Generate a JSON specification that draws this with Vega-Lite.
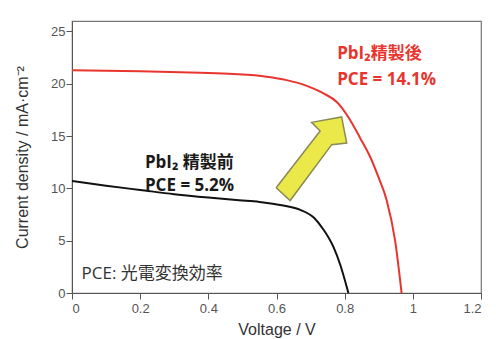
{
  "$schema": "https://vega.github.io/schema/vega-lite/v6.json",
  "width": 409,
  "height": 272,
  "autosize": "none",
  "padding": {"left": 72, "top": 21, "right": 15, "bottom": 46},
  "background": "white",
  "config": {
    "view": {"stroke": "#777", "strokeWidth": 1.2},
    "axis": {"grid": false, "domainColor": "#555", "tickColor": "#555", "labelColor": "#555", "labelFont": "Liberation Sans", "labelFontSize": 13, "titleFont": "Liberation Sans", "titleFontSize": 16, "titleFontWeight": "normal", "titleColor": "#333", "tickSize": 6}
  },
  "datasets": {
    "curves": [
      {"series": "before", "V": 0, "J": 10.7},
      {"series": "before", "V": 0.1, "J": 10.25},
      {"series": "before", "V": 0.2, "J": 9.85},
      {"series": "before", "V": 0.3, "J": 9.45},
      {"series": "before", "V": 0.4, "J": 9.12},
      {"series": "before", "V": 0.49, "J": 8.86},
      {"series": "before", "V": 0.55, "J": 8.7},
      {"series": "before", "V": 0.61, "J": 8.42},
      {"series": "before", "V": 0.67, "J": 7.95},
      {"series": "before", "V": 0.71, "J": 7.2},
      {"series": "before", "V": 0.737, "J": 6.1},
      {"series": "before", "V": 0.767, "J": 4.4},
      {"series": "before", "V": 0.787, "J": 2.7},
      {"series": "before", "V": 0.811, "J": 0},
      {"series": "after", "V": 0, "J": 21.3},
      {"series": "after", "V": 0.2, "J": 21.2},
      {"series": "after", "V": 0.376, "J": 21.05},
      {"series": "after", "V": 0.473, "J": 20.93},
      {"series": "after", "V": 0.571, "J": 20.68},
      {"series": "after", "V": 0.63, "J": 20.35},
      {"series": "after", "V": 0.689, "J": 19.8},
      {"series": "after", "V": 0.737, "J": 19.1},
      {"series": "after", "V": 0.777, "J": 18.25},
      {"series": "after", "V": 0.81, "J": 16.85},
      {"series": "after", "V": 0.845, "J": 14.85},
      {"series": "after", "V": 0.875, "J": 13.0},
      {"series": "after", "V": 0.9, "J": 11.0},
      {"series": "after", "V": 0.923, "J": 8.9},
      {"series": "after", "V": 0.948, "J": 5.0},
      {"series": "after", "V": 0.967, "J": 0}
    ],
    "arrow": [
      {"i": 0, "V": 0.599, "J": 10.06},
      {"i": 1, "V": 0.640, "J": 8.84},
      {"i": 2, "V": 0.762, "J": 14.18},
      {"i": 3, "V": 0.806, "J": 14.33},
      {"i": 4, "V": 0.791, "J": 16.83},
      {"i": 5, "V": 0.703, "J": 16.31},
      {"i": 6, "V": 0.728, "J": 15.49},
      {"i": 7, "V": 0.599, "J": 10.06}
    ],
    "redText": [
      {"V": 0.778, "J": 22.8, "label": "PbI₂精製後"},
      {"V": 0.778, "J": 20.34, "label": "PCE = 14.1%"}
    ],
    "blackText": [
      {"V": 0.214, "J": 12.47, "label": "PbI₂ 精製前"},
      {"V": 0.214, "J": 10.27, "label": "PCE = 5.2%"}
    ],
    "noteText": [
      {"V": 0.028, "J": 1.77, "label": "PCE: 光電変換効率"}
    ]
  },
  "layer": [
    {
      "data": {"name": "curves"},
      "mark": {"type": "line", "strokeWidth": 2, "interpolate": "monotone"},
      "encoding": {
        "x": {"field": "V", "type": "quantitative", "scale": {"domain": [0, 1.2]}, "axis": {"values": [0, 0.2, 0.4, 0.6, 0.8, 1, 1.2], "format": "~g", "title": "Voltage / V", "titlePadding": 6, "labelPadding": 3}},
        "y": {"field": "J", "type": "quantitative", "scale": {"domain": [0, 25]}, "axis": {"values": [0, 5, 10, 15, 20, 25], "title": "Current density / mA·cm⁻²", "titlePadding": 20, "labelPadding": 1}},
        "color": {"field": "series", "type": "nominal", "scale": {"domain": ["before", "after"], "range": ["#111111", "#e8352e"]}, "legend": null},
        "detail": {"field": "series"}
      }
    },
    {
      "data": {"name": "arrow"},
      "mark": {"type": "line", "fill": "#ebe94a", "stroke": "#8b8a55", "strokeWidth": 1.5, "strokeJoin": "miter"},
      "encoding": {
        "x": {"field": "V", "type": "quantitative"},
        "y": {"field": "J", "type": "quantitative"},
        "order": {"field": "i", "type": "quantitative"}
      }
    },
    {
      "data": {"name": "redText"},
      "mark": {"type": "text", "align": "left", "baseline": "middle", "font": "Open Sans, Noto Sans CJK JP", "fontWeight": "bold", "fontSize": 17, "color": "#e8352e"},
      "encoding": {
        "x": {"field": "V", "type": "quantitative"},
        "y": {"field": "J", "type": "quantitative"},
        "text": {"field": "label"}
      }
    },
    {
      "data": {"name": "blackText"},
      "mark": {"type": "text", "align": "left", "baseline": "middle", "font": "Open Sans, Noto Sans CJK JP", "fontWeight": "bold", "fontSize": 17, "color": "#1a1a1a"},
      "encoding": {
        "x": {"field": "V", "type": "quantitative"},
        "y": {"field": "J", "type": "quantitative"},
        "text": {"field": "label"}
      }
    },
    {
      "data": {"name": "noteText"},
      "mark": {"type": "text", "align": "left", "baseline": "middle", "font": "Open Sans, Noto Sans CJK JP", "fontWeight": "normal", "fontSize": 17, "color": "#333333"},
      "encoding": {
        "x": {"field": "V", "type": "quantitative"},
        "y": {"field": "J", "type": "quantitative"},
        "text": {"field": "label"}
      }
    }
  ]
}
